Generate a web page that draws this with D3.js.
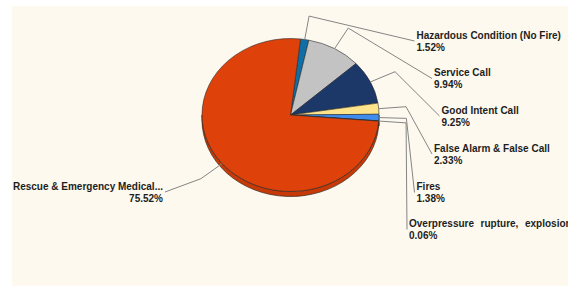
<!DOCTYPE html>
<html>
<head>
<meta charset="utf-8">
<script src="https://cdn.jsdelivr.net/npm/d3@7"></script>
<style>
  body { margin: 0; background: #fff; }
  svg { display: block; font-family: "Liberation Sans", Arial, sans-serif; }
</style>
</head>
<body>
<div id="chart"></div>
<script>
// incident types, clockwise from just right of 12 o'clock
const categories = [
  'Hazardous Condition (No Fire)',
  'Service Call',
  'Good Intent Call',
  'False Alarm & False Call',
  'Fires',
  'Overpressure rupture, explosion',
  'Rescue & Emergency Medical...'
]
const shares = [1.52, 9.94, 9.25, 2.33, 1.38, 0.06, 75.52]
const colors = ['#0f6ea6', '#c3c3c3', '#1b3868', '#fde38c', '#3f8cee', '#7a3a9a', '#de4109']

// where each label block sits (layout only)
const LABEL_SLOTS = [
  { x: 416.5, y: 38.5, anchor: 'start' },
  { x: 434, y: 76, anchor: 'start' },
  { x: 441.5, y: 113.5, anchor: 'start' },
  { x: 434, y: 151.5, anchor: 'start' },
  { x: 416.5, y: 190, anchor: 'start' },
  { x: 409, y: 227, anchor: 'start' },
  { x: 163, y: 189.5, anchor: 'end' }
]

const W = 568, H = 286
const CX = 290.5, CY = 115, RX = 88.5, RY = 76.5, DEPTH = 5
const START = 6.5 * Math.PI / 180
const ELBOW = 1.31

const data = categories.map((c, i) => ({ name: c, value: shares[i], color: colors[i], slot: LABEL_SLOTS[i] }))

const svg = d3.select('#chart').append('svg')
  .attr('width', W)
  .attr('height', H)

svg.append('rect').attr('width', W).attr('height', H).attr('fill', '#fff')
svg.append('rect')
  .attr('x', 12).attr('y', 6)
  .attr('width', W - 12).attr('height', H - 6)
  .attr('fill', '#fdf9ef')

const pie = d3.pie()
  .sort(null)
  .value(d => d.value)
  .startAngle(START)
  .endAngle(START + 2 * Math.PI)

const arcs = pie(data)

const pt = (a, k = 1, dy = 0) => [CX + k * RX * Math.sin(a), CY - k * RY * Math.cos(a) + dy]

// side wall of the tilted pie (front half only)
const sides = []
arcs.forEach(d => {
  [[Math.PI / 2, 3 * Math.PI / 2], [Math.PI / 2 + 2 * Math.PI, 3 * Math.PI / 2 + 2 * Math.PI]].forEach(([lo, hi]) => {
    const s = Math.max(d.startAngle, lo), e = Math.min(d.endAngle, hi)
    if (e > s) sides.push({ s, e, color: d.data.color })
  })
})

svg.append('g').selectAll('path')
  .data(sides)
  .join('path')
    .attr('d', d => {
      const [x0, y0] = pt(d.s), [x1, y1] = pt(d.e)
      const [x2, y2] = pt(d.e, 1, DEPTH), [x3, y3] = pt(d.s, 1, DEPTH)
      const large = d.e - d.s > Math.PI ? 1 : 0
      return `M${x0},${y0}A${RX},${RY} 0 ${large} 1 ${x1},${y1}L${x2},${y2}A${RX},${RY} 0 ${large} 0 ${x3},${y3}Z`
    })
    .attr('fill', d => d3.color(d.color).darker(0.3))
    .attr('stroke', '#3a2a20')
    .attr('stroke-width', 0.7)

// top face: circular arcs squashed into an ellipse
const arc = d3.arc().innerRadius(0).outerRadius(RX)

svg.append('g')
    .attr('transform', `translate(${CX},${CY}) scale(1,${RY / RX})`)
  .selectAll('path')
  .data(arcs)
  .join('path')
    .attr('d', arc)
    .attr('fill', d => d.data.color)
    .attr('stroke', '#2a2a2a')
    .attr('stroke-width', 0.6)
    .attr('vector-effect', 'non-scaling-stroke')

// leader lines
svg.append('g').selectAll('polyline')
  .data(arcs)
  .join('polyline')
    .attr('points', d => {
      const mid = (d.startAngle + d.endAngle) / 2
      const s = d.data.slot
      const end = s.anchor === 'start' ? [s.x - 2, s.y + 2.5] : [s.x + 2, s.y + 2.5]
      return [pt(mid), pt(mid, ELBOW), end].map(p => p.join(',')).join(' ')
    })
    .attr('fill', 'none')
    .attr('stroke', '#858585')
    .attr('stroke-width', 1)

// labels
const labels = svg.append('g').selectAll('text')
  .data(arcs)
  .join('text')
    .attr('x', d => d.data.slot.x)
    .attr('y', d => d.data.slot.y)
    .attr('text-anchor', d => d.data.slot.anchor)
    .attr('font-size', 10)
    .attr('font-weight', 'bold')
    .attr('fill', '#1e1e1e')
    .attr('word-spacing', d => d.data.name.startsWith('Overpressure') ? 3.8 : 0)

labels.append('tspan').text(d => d.data.name)
labels.append('tspan')
  .attr('x', d => d.data.slot.x)
  .attr('dy', 12)
  .attr('word-spacing', 0)
  .text(d => d.data.value.toFixed(2) + '%')
</script>
</body>
</html>
